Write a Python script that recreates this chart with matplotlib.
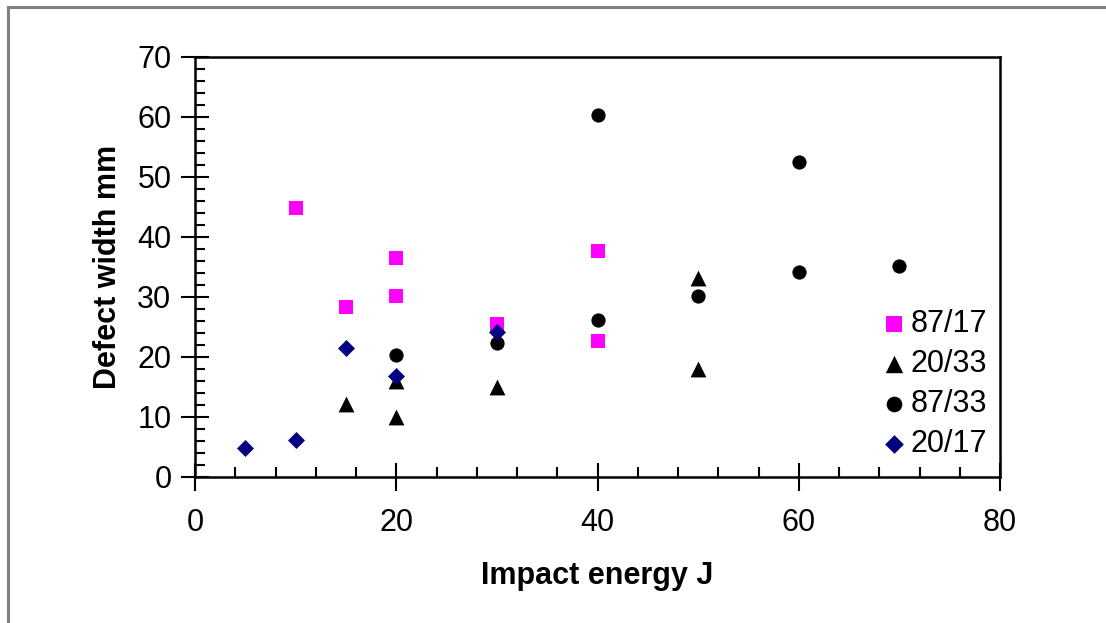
import numpy as np
import matplotlib
matplotlib.use('Agg')
import matplotlib.pyplot as plt
from matplotlib.lines import Line2D
from matplotlib.ticker import MultipleLocator

plt.rcParams['font.family'] = ['Liberation Sans', 'DejaVu Sans']

# data
x_87_17 = [10, 15, 20, 20, 30, 40, 40]
y_87_17 = [44.8, 28.3, 36.5, 30.2, 25.5, 37.7, 22.7]

x_20_33 = [15, 20, 20, 30, 50, 50]
y_20_33 = [12.2, 16.0, 10.0, 15.0, 33.2, 18.0]

x_87_33 = [20, 30, 40, 40, 50, 60, 60, 70]
y_87_33 = [20.3, 22.3, 60.3, 26.2, 30.2, 52.5, 34.2, 35.2]

x_20_17 = [5, 10, 15, 20, 30]
y_20_17 = [4.8, 6.1, 21.5, 16.8, 24.2]

labels = ['87/17', '20/33', '87/33', '20/17']

W, H = 1106, 623
fig = plt.figure(figsize=(W / 100, H / 100), dpi=100)
ax = fig.add_axes([195 / W, 1 - 477 / H, (1000 - 195) / W, (477 - 57) / H])

ax.scatter(x_87_17, y_87_17, marker='s', s=100, color='#ff00ff', linewidths=0, label=labels[0], zorder=3)
ax.scatter(x_20_33, y_20_33, marker='^', s=130, color='black', linewidths=0, label=labels[1], zorder=3)
ax.scatter(x_87_33, y_87_33, marker='o', s=105, color='black', linewidths=0, label=labels[2], zorder=3)
ax.scatter(x_20_17, y_20_17, marker='D', s=75, color='#000080', linewidths=0, label=labels[3], zorder=4)

ax.set_xlim(0, 80)
ax.set_ylim(0, 70)
ax.xaxis.set_major_locator(MultipleLocator(20))
ax.xaxis.set_minor_locator(MultipleLocator(4))
ax.yaxis.set_major_locator(MultipleLocator(10))
ax.yaxis.set_minor_locator(MultipleLocator(2))

ax.tick_params(which='major', direction='inout', length=20, width=1.5, labelsize=22)
ax.tick_params(which='minor', direction='in', length=7, width=1.5)
ax.tick_params(axis='x', which='major', pad=12)
ax.tick_params(axis='y', which='major', pad=7)

for sp in ax.spines.values():
    sp.set_linewidth(1.8)
    sp.set_color('black')

ax.set_xlabel('Impact energy J', fontsize=22, fontweight='bold', labelpad=17)
ax.set_ylabel('Defect width mm', fontsize=22, fontweight='bold', labelpad=10)

leg = ax.legend(loc='upper left', bbox_to_anchor=((866 - 195) / (1000 - 195), (477 - 297) / (477 - 57)),
                frameon=False, fontsize=22, handletextpad=0.05, labelspacing=0.32,
                borderaxespad=0, handlelength=1.0, markerscale=1.1)

# outer chart border (only left and top visible)
fig.add_artist(Line2D([8 / W, 8 / W], [0, 1 - 7 / H], color='#808080', lw=2.2))
fig.add_artist(Line2D([8 / W, 1], [1 - 7 / H, 1 - 7 / H], color='#808080', lw=2.2))

fig.savefig('out.png', dpi=100)
